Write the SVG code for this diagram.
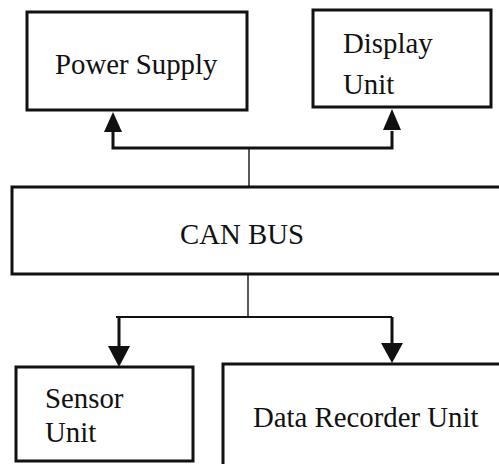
<svg xmlns="http://www.w3.org/2000/svg" width="499" height="464" viewBox="0 0 499 464">
<style>
.box{fill:#fff;stroke:#111;stroke-width:3}
.lbl{font-family:"Liberation Serif","Times New Roman",serif;font-size:28.8px;fill:#111}
.thick{stroke:#111;stroke-width:3;fill:none}
.thin{stroke:#222;stroke-width:1.5;fill:none}
.head{fill:#111}
</style>
<rect width="499" height="464" fill="#fff"/>
<g id="connectors">
  <line class="thin" x1="249" y1="148" x2="249" y2="187"/>
  <polyline class="thick" points="113,131 113,148 392,148 392,131"/>
  <polygon class="head" points="113,112 104,132 122,132"/>
  <polygon class="head" points="392,109 383,130 401,130"/>
  <line class="thin" x1="248" y1="274" x2="248" y2="317"/>
  <line class="thick" x1="116" y1="317" x2="392" y2="317" style="stroke-width:2.2"/>
  <line class="thick" x1="119" y1="317" x2="119" y2="348"/>
  <polygon class="head" points="119,367 108,346 130,346"/>
  <line class="thick" x1="392" y1="317" x2="392" y2="345"/>
  <polygon class="head" points="392,363 381,343 403,343"/>
</g>
<g id="power-supply">
  <rect class="box" x="27" y="12" width="220" height="98"/>
  <text class="lbl" x="55" y="74">Power Supply</text>
</g>
<g id="display-unit">
  <rect class="box" x="313" y="10" width="178" height="97"/>
  <text class="lbl" x="343" y="53">Display</text>
  <text class="lbl" x="343" y="94">Unit</text>
</g>
<g id="can-bus">
  <rect class="box" x="12" y="187" width="500" height="87"/>
  <text class="lbl" x="180" y="244">CAN BUS</text>
</g>
<g id="sensor-unit">
  <rect class="box" x="16" y="367" width="177" height="94"/>
  <text class="lbl" x="45" y="408">Sensor</text>
  <text class="lbl" x="45" y="442">Unit</text>
</g>
<g id="data-recorder-unit">
  <rect class="box" x="223" y="364" width="290" height="110"/>
  <text class="lbl" x="253" y="427">Data Recorder Unit</text>
</g>
</svg>
